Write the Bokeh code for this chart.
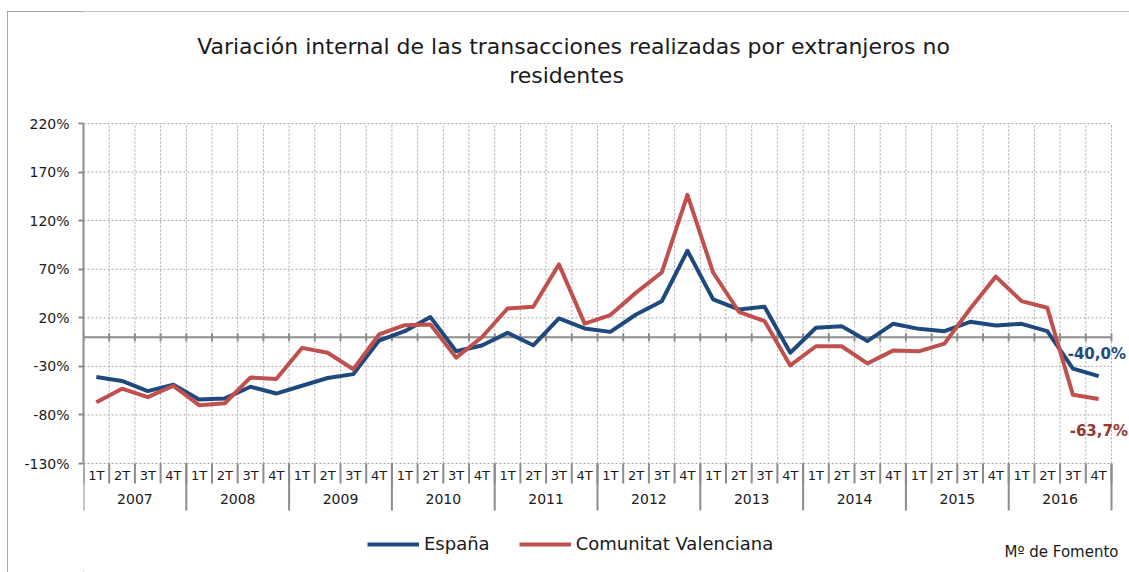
import numpy as np
from bokeh.plotting import figure
from bokeh.models import (Range1d, FixedTicker, LinearAxis, Label, LabelSet,
                          ColumnDataSource, Legend, LegendItem, CustomJSTickFormatter)
from bokeh.embed import file_html
from bokeh.resources import INLINE
from bokeh.core.properties import value

# ---------------- data ----------------
years = ["2007", "2008", "2009", "2010", "2011", "2012", "2013", "2014", "2015", "2016"]
quarters = ["1T", "2T", "3T", "4T"]
espana = [-41, -45, -55.5, -49, -64, -63, -51, -58, -50, -42, -38, -3.4,
          6.2, 20.7, -14.5, -8.6, 4.5, -8.3, 19.3, 9, 5.5, 23.4, 37, 89,
          39, 28.6, 31.4, -16, 9.7, 11.4, -4, 13.8, 8.6, 6.2, 15.9, 12,
          13.8, 6.2, -32.4, -40.0]
valenciana = [-67, -53, -61.7, -50, -70, -68, -41.4, -43, -11, -16, -33, 2.8,
              12.4, 13, -21, 0, 29.6, 31.4, 75, 14, 22.8, 45.9, 66.6, 146.6,
              66.6, 26.2, 16.6, -29, -9.3, -9.3, -27, -13.8, -14.5, -6.6, 29.3, 62.4,
              37.2, 30.3, -59.3, -63.7]
y_ticks = [-130, -80, -30, 20, 70, 120, 170, 220]
series_names = ["España", "Comunitat Valenciana"]
title_lines = ["Variación internal de las transacciones realizadas por extranjeros no",
               "residentes"]
source_text = "Mº de Fomento"

# ---------------- styling / layout ----------------
FONT = "DejaVu Sans"
BLUE = "#1F497D"
RED = "#C0504D"
DARKRED = "#943634"
GRAY = "#8c8c8c"
GRID = "#a6a6a6"
TXT = "#1a1a1a"

W, H = 1122, 561          # figure size (placed at page offset 7, 11)
LEFT = 76                 # frame left inside figure
PLOT_TOP = 112            # y of top gridline inside figure
PLOT_H = 340              # pixel height between bottom and top gridline
QW = 25.7                 # pixel width of one quarter

n = len(years) * len(quarters)
xs = np.arange(n) + 0.5
bounds = np.arange(n + 1)
year_bounds = np.arange(0, n + 1, len(quarters))

ymin, ymax = y_ticks[0], y_ticks[-1]
upp = (ymax - ymin) / PLOT_H           # data units per pixel
y_top = ymax + PLOT_TOP * upp
y_bot = ymax - (H - PLOT_TOP) * upp
x_end = (W - LEFT) / QW

p = figure(width=W, height=H, x_range=Range1d(0, x_end), y_range=Range1d(y_bot, y_top),
           output_backend="svg", toolbar_location=None,
           x_axis_type=None, y_axis_type=None,
           min_border_left=LEFT, min_border_right=0, min_border_top=0, min_border_bottom=0)
p.margin = (11, 0, 0, 7)
p.styles = {"outline": f"2px solid {GRAY}", "outline-offset": "-2px"}
p.outline_line_color = None
p.background_fill_color = "white"
p.border_fill_color = "white"
p.xgrid.visible = False
p.ygrid.visible = False

# dotted gridlines
p.segment(x0=[0] * len(y_ticks), x1=[n] * len(y_ticks), y0=y_ticks, y1=y_ticks,
          line_color=GRID, line_dash="2 2", line_width=1)
p.segment(x0=bounds[1:], x1=bounds[1:], y0=[ymin] * n, y1=[ymax] * n,
          line_color=GRID, line_dash="2 2", line_width=1)

# y axis
yaxis = LinearAxis(ticker=FixedTicker(ticks=y_ticks), bounds=(ymin, ymax),
                   formatter=CustomJSTickFormatter(code="return tick + '%'"))
yaxis.axis_line_color = GRAY
yaxis.axis_line_width = 2
yaxis.major_tick_line_color = GRAY
yaxis.major_tick_line_width = 2
yaxis.major_tick_out = 5
yaxis.major_tick_in = 0
yaxis.minor_tick_line_color = None
yaxis.major_label_standoff = 9
yaxis.major_label_text_font = FONT
yaxis.major_label_text_font_size = "14px"
yaxis.major_label_text_color = TXT
p.add_layout(yaxis, "left")

# category separators below the plot
p.segment(x0=bounds, x1=bounds, y0=[ymin] * (n + 1), y1=[ymin - 20 * upp] * (n + 1),
          line_color=GRAY, line_width=2)
p.segment(x0=year_bounds, x1=year_bounds, y0=[ymin] * len(year_bounds),
          y1=[ymin - 47 * upp] * len(year_bounds), line_color=GRAY, line_width=2)

# zero line with cross ticks
p.segment(x0=[0], x1=[n], y0=[0], y1=[0], line_color=GRAY, line_width=2)
p.segment(x0=bounds, y0=[-4 * upp] * (n + 1), x1=bounds, y1=[4 * upp] * (n + 1),
          line_color=GRAY, line_width=2)

# quarter / year labels
q_src = ColumnDataSource(dict(x=xs, text=quarters * len(years)))
p.add_layout(LabelSet(x="x", y=ymin, y_offset=-12, text="text", source=q_src,
                      text_align="center", text_baseline="middle",
                      text_font=value(FONT), text_font_size=value("13px"), text_color=TXT))
y_src = ColumnDataSource(dict(x=year_bounds[:-1] + len(quarters) / 2, text=years))
p.add_layout(LabelSet(x="x", y=ymin, y_offset=-35, text="text", source=y_src,
                      text_align="center", text_baseline="middle",
                      text_font=value(FONT), text_font_size=value("14px"), text_color=TXT))

# series
r1 = p.line(xs, espana, line_color=BLUE, line_width=4, line_join="round")
r2 = p.line(xs, valenciana, line_color=RED, line_width=4, line_join="round")

def fmt(v):
    return f"{v:.1f}%".replace(".", ",")

p.add_layout(Label(x=xs[-1], y=espana[-1], x_offset=-31, y_offset=22, text=fmt(espana[-1]),
                   text_font=FONT, text_font_size="15px", text_font_style="bold",
                   text_color=BLUE, text_baseline="middle", text_align="left"))
p.add_layout(Label(x=xs[-1], y=valenciana[-1], x_offset=-29, y_offset=-32, text=fmt(valenciana[-1]),
                   text_font=FONT, text_font_size="15px", text_font_style="bold",
                   text_color=DARKRED, text_baseline="middle", text_align="left"))

# title (screen units relative to frame bottom-left)
p.add_layout(Label(x=490, y=H - 35, x_units="screen", y_units="screen", text=title_lines[0],
                   text_font=FONT, text_font_size="22px", text_color=TXT,
                   text_align="center", text_baseline="middle"))
p.add_layout(Label(x=483, y=H - 64, x_units="screen", y_units="screen", text=title_lines[1],
                   text_font=FONT, text_font_size="22px", text_color=TXT,
                   text_align="center", text_baseline="middle"))

# source
p.add_layout(Label(x=1035, y=21, x_units="screen", y_units="screen", text=source_text,
                   text_font=FONT, text_font_size="15px", text_color=TXT,
                   text_align="right", text_baseline="middle"))

# legend
legend = Legend(items=[LegendItem(label=series_names[0], renderers=[r1]),
                       LegendItem(label=series_names[1], renderers=[r2])],
                orientation="horizontal", location=(284, 18),
                border_line_color=None, background_fill_alpha=0,
                glyph_width=52, glyph_height=20, label_height=20,
                label_text_font=FONT, label_text_font_size="18px", label_text_color=TXT,
                spacing=29, padding=0, margin=0, label_standoff=5)
p.add_layout(legend)

open("out.html", "w").write(file_html(p, INLINE))
